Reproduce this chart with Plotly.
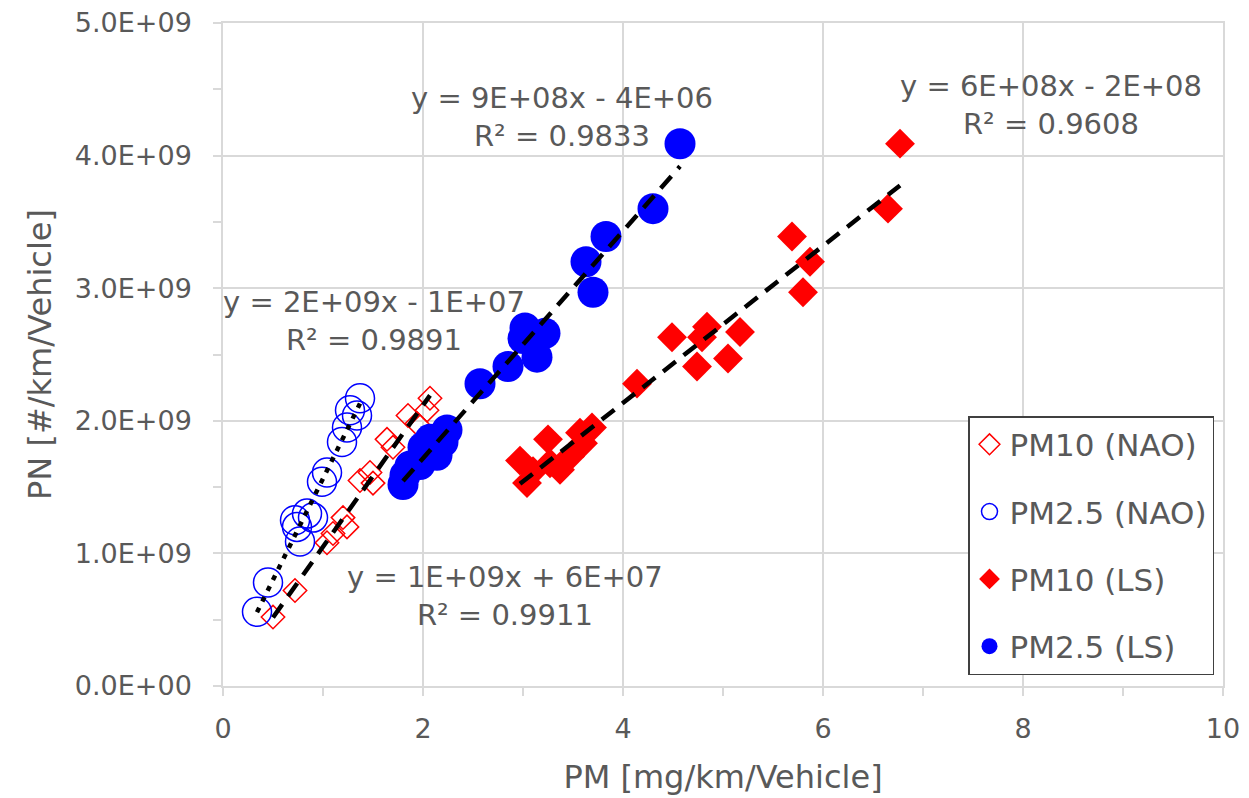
import numpy as np
import plotly.graph_objects as go

# ---------------- data (PM in mg/km/Vehicle, PN in #/km/Vehicle) ----------------
pm10_nao_x = [0.50, 0.72, 1.04, 1.10, 1.24, 1.20, 1.37, 1.50, 1.47, 1.64, 1.70, 1.85, 1.94, 2.04, 2.07]
pm10_nao_y = [0.52e9, 0.72e9, 1.08e9, 1.15e9, 1.20e9, 1.27e9, 1.55e9, 1.53e9, 1.61e9, 1.86e9, 1.80e9,
              2.04e9, 1.98e9, 2.08e9, 2.17e9]

pm25_nao_x = [0.34, 0.45, 0.77, 0.74, 0.72, 0.90, 0.84, 0.99, 1.04, 1.19, 1.24, 1.34, 1.27, 1.37]
pm25_nao_y = [0.56e9, 0.78e9, 1.09e9, 1.20e9, 1.25e9, 1.27e9, 1.30e9, 1.54e9, 1.61e9, 1.84e9, 1.95e9,
              2.04e9, 2.08e9, 2.17e9]

pm10_ls_x = [2.97, 3.04, 3.10, 3.25, 3.27, 3.37, 3.47, 3.57, 3.60, 3.69, 4.14, 4.49, 4.74, 4.79, 4.84,
             5.05, 5.17, 5.69, 5.80, 5.87, 6.65, 6.77]
pm10_ls_y = [1.70e9, 1.53e9, 1.62e9, 1.86e9, 1.68e9, 1.63e9, 1.73e9, 1.91e9, 1.83e9, 1.95e9, 2.28e9,
             2.63e9, 2.41e9, 2.63e9, 2.71e9, 2.47e9, 2.67e9, 3.39e9, 2.97e9, 3.20e9, 3.60e9, 4.09e9]

pm25_ls_x = [1.80, 1.82, 1.87, 1.97, 2.00, 2.07, 2.14, 2.24, 2.20, 2.57, 2.85, 3.02, 3.00, 3.14, 3.22,
             3.63, 3.70, 3.83, 4.30, 4.57]
pm25_ls_y = [1.52e9, 1.59e9, 1.66e9, 1.67e9, 1.80e9, 1.86e9, 1.74e9, 1.93e9, 1.84e9, 2.28e9, 2.41e9,
             2.70e9, 2.62e9, 2.48e9, 2.66e9, 3.20e9, 2.97e9, 3.39e9, 3.60e9, 4.09e9]

series_names = ["PM10 (NAO)", "PM2.5 (NAO)", "PM10 (LS)", "PM2.5 (LS)"]

eq_labels = ["y = 1E+09x + 6E+07<br>R² = 0.9911",
             "y = 2E+09x - 1E+07<br>R² = 0.9891",
             "y = 6E+08x - 2E+08<br>R² = 0.9608",
             "y = 9E+08x - 4E+06<br>R² = 0.9833"]
eq_pos_x = [2.82, 1.51, 8.28, 3.39]
eq_pos_y = [0.68e9, 2.75e9, 4.38e9, 4.29e9]

x_tick_vals = [0, 2, 4, 6, 8, 10]
y_tick_vals = [0, 1e9, 2e9, 3e9, 4e9, 5e9]
y_tick_text = ["0.0E+00", "1.0E+09", "2.0E+09", "3.0E+09", "4.0E+09", "5.0E+09"]

# ---------------- figure ----------------
FONT = "DejaVu Sans"
TXT = "#595959"
GRID = "#d9d9d9"

fig = go.Figure()

styles = [
    dict(symbol="diamond-open", size=18, color="#ff0000", line=dict(width=1.5, color="#ff0000")),
    dict(symbol="circle-open", size=29, color="#0000ff", line=dict(width=1.5, color="#0000ff")),
    dict(symbol="diamond", size=23, color="#ff0000", line=dict(width=0)),
    dict(symbol="circle", size=31, color="#0000ff", line=dict(width=0)),
]
data = [(pm10_nao_x, pm10_nao_y), (pm25_nao_x, pm25_nao_y), (pm10_ls_x, pm10_ls_y), (pm25_ls_x, pm25_ls_y)]

for i, ((xs, ys), name, st) in enumerate(zip(data, series_names, styles)):
    fig.add_trace(go.Scatter(x=xs, y=ys, mode="markers", name=name, marker=st,
                             legendgroup=f"g{i}", showlegend=True))

dashes = ["16px,10px", "5px,7px", "16px,10px", "16px,10px"]
for (xs, ys), dash in zip(data, dashes):
    xa = np.array(xs)
    k, b = np.polyfit(xa, np.array(ys), 1)
    xl = [xa.min(), xa.max()]
    fig.add_trace(go.Scatter(x=xl, y=[k * v + b for v in xl], mode="lines",
                             line=dict(color="black", width=4.5, dash=dash),
                             showlegend=False, hoverinfo="skip"))

for txt, ax, ay in zip(eq_labels, eq_pos_x, eq_pos_y):
    fig.add_annotation(x=ax, y=ay, xref="x", yref="y", text=txt, showarrow=False,
                       font=dict(family=FONT, size=29, color=TXT), align="center")

fig.update_layout(
    width=1241, height=790,
    margin=dict(l=215, r=26, t=15, b=112),
    paper_bgcolor="white", plot_bgcolor="white",
    showlegend=True,
    legend=dict(x=0.745, y=0.407, xanchor="left", yanchor="top",
                bgcolor="white", bordercolor="#404040", borderwidth=1.5,
                font=dict(family=FONT, size=31, color=TXT),
                traceorder="grouped", tracegroupgap=24, itemsizing="trace"),
    font=dict(family=FONT, color=TXT),
)

fig.update_xaxes(range=[0, 10], tickvals=x_tick_vals, showgrid=True, gridcolor=GRID, gridwidth=1.5,
                 showline=True, linecolor=GRID, linewidth=1.5, mirror=True, zeroline=False, automargin=False,
                 ticks="outside", ticklen=8, tickcolor=GRID, tickwidth=1.5, ticklabeloverflow="allow",
                 minor=dict(ticks="outside", dtick=1, ticklen=8, tickcolor=GRID, tickwidth=1.5, showgrid=False),
                 tickfont=dict(family=FONT, size=27, color=TXT), ticklabelstandoff=10,
                 title=dict(text="PM [mg/km/Vehicle]", font=dict(family=FONT, size=32, color=TXT), standoff=22))

fig.update_yaxes(range=[0, 5e9], tickvals=y_tick_vals, ticktext=y_tick_text, showgrid=True, gridcolor=GRID,
                 gridwidth=1.5, showline=True, linecolor=GRID, linewidth=1.5, mirror=True, zeroline=False,
                 automargin=False, ticklabeloverflow="allow",
                 ticks="outside", ticklen=8, tickcolor=GRID, tickwidth=1.5,
                 minor=dict(ticks="outside", dtick=0.5e9, ticklen=8, tickcolor=GRID, tickwidth=1.5, showgrid=False),
                 tickfont=dict(family=FONT, size=27, color=TXT), ticklabelstandoff=16,
                 title=dict(text="PN [#/km/Vehicle]", font=dict(family=FONT, size=32, color=TXT), standoff=14))

fig.write_html("out.html")
